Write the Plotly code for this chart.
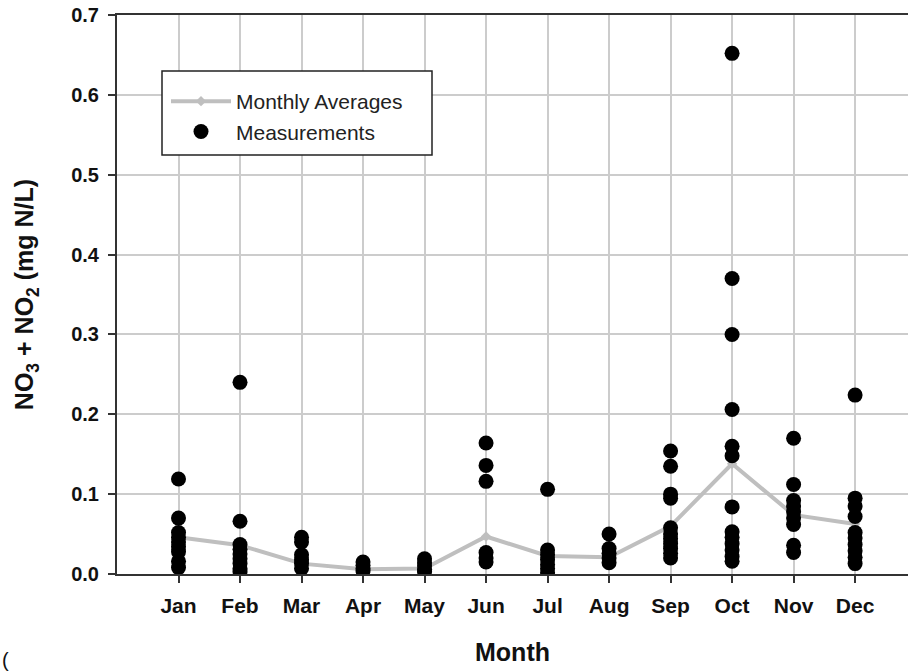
import plotly.graph_objects as go

months = ["Jan", "Feb", "Mar", "Apr", "May", "Jun", "Jul", "Aug", "Sep", "Oct", "Nov", "Dec"]

jan = [0.119, 0.070, 0.052, 0.046, 0.040, 0.034, 0.028, 0.016, 0.008]
feb = [0.240, 0.066, 0.037, 0.031, 0.025, 0.019, 0.013, 0.007, 0.003]
mar = [0.046, 0.040, 0.024, 0.018, 0.013, 0.007]
apr = [0.015, 0.011, 0.007, 0.004]
may = [0.019, 0.014, 0.010, 0.006, 0.003]
jun = [0.164, 0.136, 0.116, 0.027, 0.020, 0.015]
jul = [0.106, 0.030, 0.024, 0.018, 0.012, 0.007, 0.002]
aug = [0.050, 0.032, 0.026, 0.020, 0.014]
sep = [0.154, 0.135, 0.100, 0.095, 0.058, 0.050, 0.044, 0.038, 0.032, 0.026, 0.020]
octo = [0.652, 0.370, 0.300, 0.206, 0.160, 0.148, 0.084, 0.053, 0.046, 0.038, 0.030, 0.022, 0.016]
nov = [0.170, 0.112, 0.092, 0.085, 0.078, 0.070, 0.062, 0.036, 0.027]
dec = [0.224, 0.095, 0.085, 0.072, 0.052, 0.045, 0.037, 0.029, 0.021, 0.013]

monthly_averages = [0.046, 0.036, 0.013, 0.006, 0.007, 0.047, 0.0225, 0.021, 0.060, 0.138, 0.074, 0.0625]

y_ticks = [0.0, 0.1, 0.2, 0.3, 0.4, 0.5, 0.6, 0.7]
y_ticklabels = ["0.0", "0.1", "0.2", "0.3", "0.4", "0.5", "0.6", "0.7"]

measurements = [jan, feb, mar, apr, may, jun, jul, aug, sep, octo, nov, dec]
month_pos = list(range(1, 13))

mx, my = [], []
for pos, vals in zip(month_pos, measurements):
    mx.extend([pos] * len(vals))
    my.extend(vals)

FONT = "Liberation Sans, Arial, sans-serif"

# plot-area geometry in px (for paper-coordinate placement of the legend box)
PL, PR, PT, PB = 117, 908, 15, 574
PW, PH = PR - PL, PB - PT

fig = go.Figure()
fig.add_trace(go.Scatter(
    x=month_pos, y=monthly_averages, mode="lines+markers",
    name="Monthly Averages",
    line=dict(color="#bfbfbf", width=4),
    marker=dict(symbol="diamond", size=8, color="#bfbfbf"),
))
fig.add_trace(go.Scatter(
    x=mx, y=my, mode="markers", name="Measurements",
    marker=dict(symbol="circle", size=15, color="#000000", line=dict(width=0)),
))

fig.update_layout(
    width=908, height=671,
    margin=dict(l=PL, r=0, t=PT, b=671 - PB),
    paper_bgcolor="white", plot_bgcolor="white",
    font=dict(family=FONT, color="#111111"),
    showlegend=True,
    legend=dict(
        x=(166 - PL) / PW, y=(PB - 81) / PH, xanchor="left", yanchor="top",
        bgcolor="rgba(0,0,0,0)", borderwidth=0,
        font=dict(family=FONT, size=21, color="#222222"),
        tracegroupgap=0, itemsizing="trace", itemwidth=60,
    ),
    xaxis=dict(
        range=[0, 12.86],
        tickmode="array", tickvals=month_pos, ticktext=months,
        showgrid=True, gridcolor="#cccccc", gridwidth=1.5,
        showline=True, linecolor="#333333", linewidth=2, mirror=True,
        ticks="outside", ticklen=7, tickwidth=1.5, tickcolor="#333333",
        tickfont=dict(family=FONT, size=21, weight="bold", color="#111111"),
        ticklabelstandoff=5,
        zeroline=False,
        title=dict(text="Month", font=dict(family=FONT, size=25, weight="bold", color="#111111"), standoff=27),
    ),
    yaxis=dict(
        range=[0, 0.7],
        tickmode="array", tickvals=y_ticks, ticktext=y_ticklabels,
        showgrid=True, gridcolor="#cccccc", gridwidth=1.5,
        showline=True, linecolor="#333333", linewidth=2, mirror=False,
        ticks="outside", ticklen=7, tickwidth=1.5, tickcolor="#333333",
        tickfont=dict(family=FONT, size=20, weight="bold", color="#111111"),
        ticklabelstandoff=5,
        zeroline=False,
        title=dict(text="NO<sub>3</sub> + NO<sub>2</sub> (mg N/L)",
                   font=dict(family=FONT, size=25, weight="bold", color="#111111"), standoff=30),
    ),
    shapes=[dict(
        type="rect", xref="paper", yref="paper",
        x0=(162 - PL) / PW, x1=(432 - PL) / PW,
        y0=(PB - 155) / PH, y1=(PB - 71) / PH,
        line=dict(color="#222222", width=1.5), fillcolor="white", layer="above",
    )],
)

fig.add_annotation(
    text="(", xref="paper", yref="paper", x=-PL / PW, y=-86 / PH,
    xanchor="left", yanchor="middle", showarrow=False,
    font=dict(family=FONT, size=20, color="#111111"),
)

fig.write_html("out.html")
